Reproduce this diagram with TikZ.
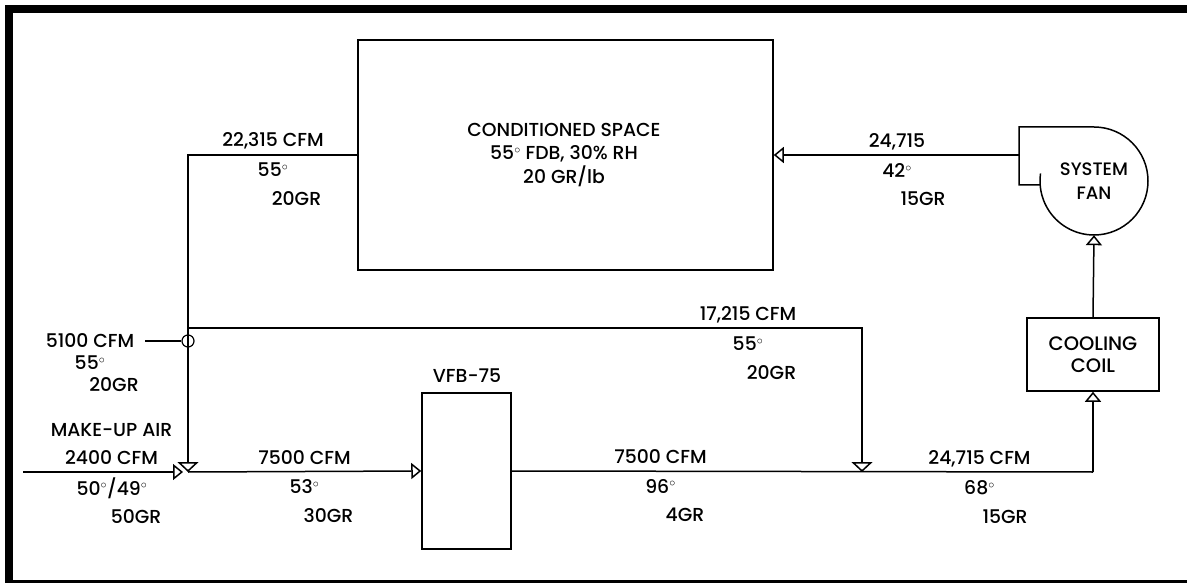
\documentclass[tikz,border=0pt]{standalone}
\usepackage{fontspec}
\setmainfont{Poppins Medium}
\usepackage{tikz}
\usetikzlibrary{arrows.meta}
\tikzset{
  duct/.style={line width=1.5pt},
  ductin/.style={duct,-{Triangle[open,length=10pt,width=16pt,line width=1.5pt]}},
  ductdrop/.style={duct,-{Triangle[open,length=10pt,width=21pt,line width=1.5pt]}},
  unitbox/.style={draw,line width=1.5pt,inner sep=0pt,align=center},
  tag/.style={inner sep=0pt,font=\fontsize{18.8}{23.5}\selectfont,align=center}
}
\newcommand{\degs}{\smash{$^\circ$}}
% name, x, y, flow, temperature, moisture, moisture shift, row gap
\newcommand{\airdata}[8]{%
  \node[tag] (#1flow) at (#2,#3) {#4};
  \node[tag] (#1temp) at (#2,#3+#8) {#5\degs};
  \node[tag] (#1gr) at (#2+#7,#3+2*#8) {#6};
}
\begin{document}
\begin{tikzpicture}[x=1pt,y=-1pt]
  \useasboundingbox (0,0) rectangle (1187,583);
  \fill[white] (0,0) rectangle (1187,583);
  \fill (5,5) rectangle (1187,13);
  \fill (5,5) rectangle (13,583);
  \fill (5,580) rectangle (1187,583);
  % units
  \node[unitbox,minimum width=415pt,minimum height=230pt] (space) at (565.5,155) {};
  \node[tag] (spacetext) at (564,155) {CONDITIONED SPACE\\55\degs{} FDB, 30\% RH\\20 GR/lb};
  \node[unitbox,minimum width=89pt,minimum height=156pt] (vfb) at (466.5,471) {};
  \node[tag] (vfbname) at (467,376) {VFB-75};
  \node[unitbox,minimum width=132pt,minimum height=73pt,font=\fontsize{19.5}{22}\selectfont] (coil) at (1093,354.5) {COOLING\\COIL};
  \node[circle,minimum size=108pt,inner sep=0pt,align=center,font=\fontsize{18}{24}\selectfont] (fan) at (1094,181) {SYSTEM\\FAN};
  \draw[duct,line join=miter] (1039,185) -- (1019,185) -- (1019,127) -- (1094,127)
    arc[start angle=-90,end angle=188,radius=54];
  % junction points
  \coordinate (fanout) at (1019,155);
  \coordinate (supplytop) at (188,155);
  \coordinate (split) at (188,328);
  \coordinate (mixdown) at (188,472);
  \coordinate (bypasstop) at (862,328);
  \coordinate (bypassend) at (862,472);
  \coordinate (coilturn) at (1093,472);
  \coordinate (makeup) at (23,472);
  \coordinate (mixleft) at (183,472);
  \coordinate (relief) at (145,341);
  \node[circle,draw,line width=1.2pt,minimum size=12pt,inner sep=0pt] (tee) at (188,341) {};
  % ducts
  \draw[ductin] (fanout) -- (space.east);
  \draw[duct] (space.west) -- (supplytop) -- (split);
  \draw[ductdrop] (split) -- (mixdown);
  \draw[ductdrop] (split) -- (bypasstop) -- (bypassend);
  \draw[duct] (relief) -- (tee);
  \draw[ductin] (makeup) -- (mixleft);
  \draw[ductin] (mixdown) -- (vfb.west);
  \draw[duct] (vfb.east) -- (coilturn);
  \draw[ductin] (coilturn) -- (coil.south);
  \draw[ductin] (coil.north) -- (fan.south);
  % air data
  \airdata{supply}{273}{141}{22,315 CFM}{55}{20GR}{23.5}{29}
  \airdata{fan}{897}{142}{24,715}{42}{15GR}{26}{28.5}
  \airdata{bypass}{748}{315}{17,215 CFM}{55}{20GR}{23.5}{29}
  \airdata{relief}{90}{341}{5100 CFM}{55}{20GR}{24}{22}
  \node[tag] (makeupname) at (111.5,430) {MAKE-UP AIR};
  \node[tag] (makeupflow) at (111.5,458) {2400 CFM};
  \node[tag] (makeuptemp) at (112,488) {50\degs/49\degs};
  \node[tag] (makeupgr) at (136,517) {50GR};
  \airdata{mixed}{304.5}{458}{7500 CFM}{53}{30GR}{24}{29}
  \airdata{leaving}{660.5}{457}{7500 CFM}{96}{4GR}{24.5}{29}
  \airdata{coiling}{979.5}{459}{24,715 CFM}{68}{15GR}{25.5}{29}
\end{tikzpicture}
\end{document}
